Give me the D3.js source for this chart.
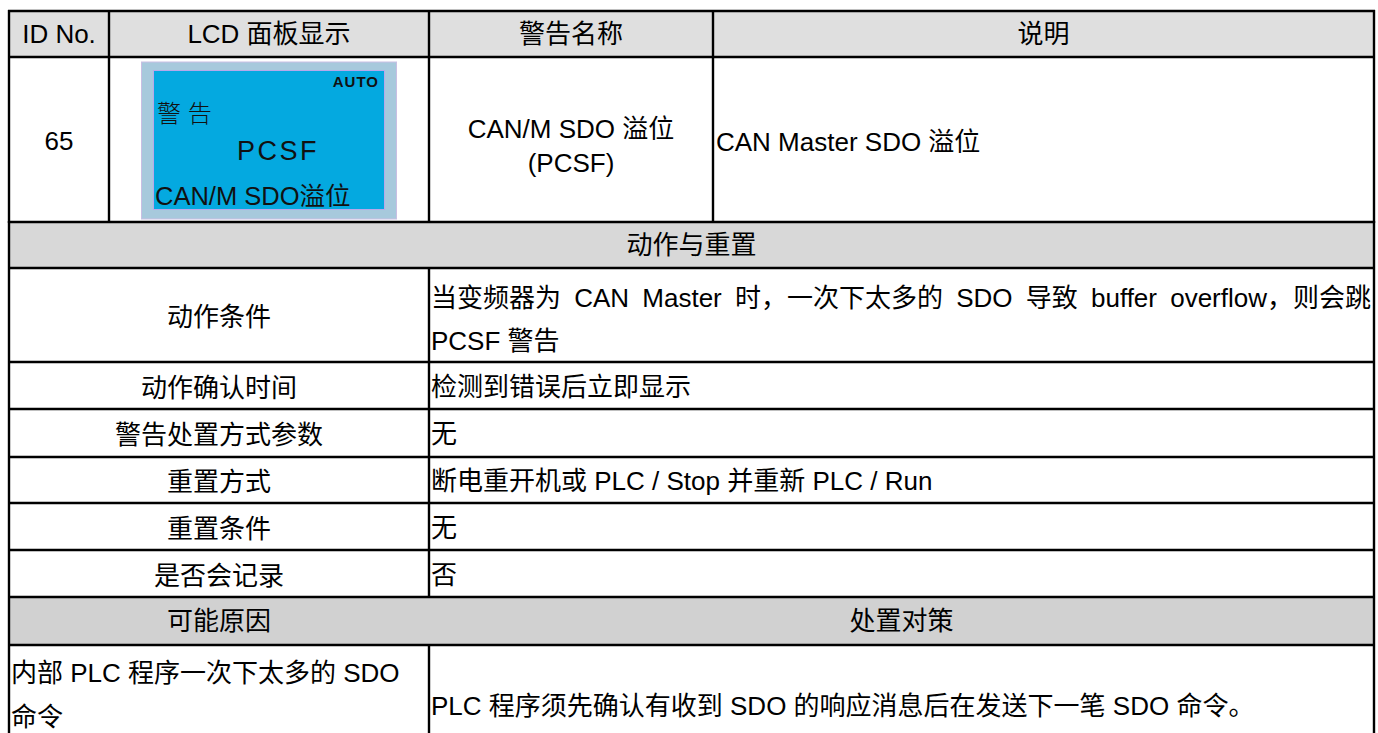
<!DOCTYPE html>
<html>
<head>
<meta charset="utf-8">
<script src="https://cdn.jsdelivr.net/npm/d3@7"></script>
<style>
  html, body { margin: 0; padding: 0; background: #ffffff; }
  svg { display: block; }
  text { font-family: "Liberation Sans", Arial, "Noto Sans CJK SC", sans-serif; fill: #000; }
</style>
</head>
<body>
<svg id="chart" width="1378" height="733"></svg>
<script>
// ---------- data ----------
const headerLabels = ["ID No.", "LCD 面板显示", "警告名称", "说明"];
const warningId = "65";
const lcdTexts = ["AUTO", "警 告", "PCSF", "CAN/M SDO溢位"];
const warningName = ["CAN/M SDO 溢位", "(PCSF)"];
const description = ["CAN Master SDO 溢位"];
const sectionTitle = "动作与重置";
const actionLabels = ["动作条件", "动作确认时间", "警告处置方式参数", "重置方式", "重置条件", "是否会记录"];
const actionValues = [
  ["当变频器为 CAN Master 时，一次下太多的 SDO 导致 buffer overflow，则会跳", "PCSF 警告"],
  ["检测到错误后立即显示"],
  ["无"],
  ["断电重开机或 PLC / Stop 并重新 PLC / Run"],
  ["无"],
  ["否"]
];
const causeHeaders = ["可能原因", "处置对策"];
const causeLines = ["内部 PLC 程序一次下太多的 SDO", "命令"];
const measureLines = ["PLC 程序须先确认有收到 SDO 的响应消息后在发送下一笔 SDO 命令。"];

// ---------- layout ----------
const L = 9, R = 1374;
const topCols = [L, 109, 429, 713, R];
const splitX = 429;
const yHead = [11, 57], yMain = [57, 222], ySection = [222, 268];
const actionRowH = [94, 47, 48, 46, 47, 47];
const yCauseHead = [597, 645], yCause = [645, 800];
const FS = 26;
const offs = 9; // baseline offset from visual center

const svg = d3.select("#chart");

// y positions of action rows via a scan of heights
const actionY = [];
{ let y = ySection[1]; actionRowH.forEach(h => { actionY.push([y, y + h]); y += h; }); }

// ---------- fills ----------
const fills = [
  { x: L, y: yHead[0], w: R - L, h: yHead[1] - yHead[0], c: "#dfdfdf" },
  { x: L, y: ySection[0], w: R - L, h: ySection[1] - ySection[0], c: "#d8d8d8" },
  { x: L, y: yCauseHead[0], w: R - L, h: yCauseHead[1] - yCauseHead[0], c: "#d1d1d1" }
];
svg.selectAll("rect.fill").data(fills).join("rect").attr("class", "fill")
  .attr("x", d => d.x).attr("y", d => d.y).attr("width", d => d.w).attr("height", d => d.h)
  .attr("fill", d => d.c);

// ---------- LCD panel ----------
const lcd = svg.append("g");
lcd.append("rect").attr("x", 141.5).attr("y", 62).attr("width", 255).attr("height", 157)
  .attr("fill", "#a7c9dc").attr("stroke", "#c9bfe3").attr("stroke-width", 1);
lcd.append("rect").attr("x", 153.5).attr("y", 70.5).attr("width", 231).attr("height", 139)
  .attr("fill", "#04a9e0").attr("stroke", "#b7a9ea").attr("stroke-width", 1);
const lcdSpec = [
  { x: 379, y: 87, size: 15, weight: 700, anchor: "end", ls: 1 },
  { x: 157, y: 122, size: 24, weight: 300, anchor: "start", ls: 0 },
  { x: 237, y: 160, size: 27, weight: 400, anchor: "start", ls: 2.5 },
  { x: 155, y: 205, size: 25.5, weight: 400, anchor: "start", ls: 0 }
];
lcd.selectAll("text").data(lcdTexts).join("text")
  .attr("x", (d, i) => lcdSpec[i].x).attr("y", (d, i) => lcdSpec[i].y)
  .attr("font-size", (d, i) => lcdSpec[i].size).attr("font-weight", (d, i) => lcdSpec[i].weight)
  .attr("text-anchor", (d, i) => lcdSpec[i].anchor)
  .attr("letter-spacing", (d, i) => lcdSpec[i].ls)
  .style("fill", "#111")
  .text(d => d);

// ---------- texts ----------
function addText(str, x, yc, anchor, extra) {
  const t = svg.append("text").attr("x", x).attr("y", yc + offs)
    .attr("font-size", FS).attr("text-anchor", anchor).text(str);
  return t;
}
// header
headerLabels.forEach((s, i) => addText(s, (topCols[i] + topCols[i + 1]) / 2, 34, "middle"));
// main row
addText(warningId, (topCols[0] + topCols[1]) / 2, 141, "middle");
warningName.forEach((s, i) => addText(s, (topCols[2] + topCols[3]) / 2, 129 + i * 34, "middle"));
description.forEach(s => addText(s, topCols[3] + 3, 142, "start"));
// section
addText(sectionTitle, (L + R) / 2, 245, "middle");
// action rows
actionLabels.forEach((s, i) => {
  const [y0, y1] = actionY[i];
  addText(s, (L + splitX) / 2, (y0 + y1) / 2 + 2, "middle");
  const vals = actionValues[i];
  if (vals.length === 1) {
    addText(vals[0], splitX + 2, (y0 + y1) / 2 + 1, "start");
  } else {
    vals.forEach((v, j) => {
      const t = addText(v, splitX + 2, y0 + 30 + j * 43, "start");
      if (j < vals.length - 1) {
        const target = R - 3 - (splitX + 2);
        const natural = t.node().getComputedTextLength();
        const spaces = (v.match(/ /g) || []).length;
        if (spaces > 0 && natural < target) t.attr("word-spacing", (target - natural) / spaces);
      }
    });
  }
});
// cause header
addText(causeHeaders[0], (L + splitX) / 2, 621, "middle");
addText(causeHeaders[1], (splitX + R) / 2, 621, "middle");
causeLines.forEach((s, i) => addText(s, L + 2, 673 + i * 44, "start"));
measureLines.forEach(s => addText(s, splitX + 2, 706, "start"));

// ---------- grid lines ----------
const hLines = [yHead[0], yHead[1], yMain[1], ySection[1], ...actionY.map(d => d[1]), yCauseHead[1]];
svg.selectAll("line.h").data(hLines).join("line").attr("class", "h")
  .attr("x1", L - 1).attr("x2", R + 1).attr("y1", d => d).attr("y2", d => d)
  .attr("stroke", "#000").attr("stroke-width", 2.4);
const vLines = [
  ...topCols.map(x => ({ x, y0: yHead[0], y1: yMain[1] })),
  { x: L, y0: ySection[0], y1: yCause[1] },
  { x: R, y0: ySection[0], y1: yCause[1] },
  { x: splitX, y0: ySection[1], y1: yCauseHead[0] },
  { x: splitX, y0: yCauseHead[1], y1: yCause[1] }
];
svg.selectAll("line.v").data(vLines).join("line").attr("class", "v")
  .attr("x1", d => d.x).attr("x2", d => d.x).attr("y1", d => d.y0 - 1).attr("y2", d => d.y1 + 1)
  .attr("stroke", "#000").attr("stroke-width", 2.4);
</script>
</body>
</html>
